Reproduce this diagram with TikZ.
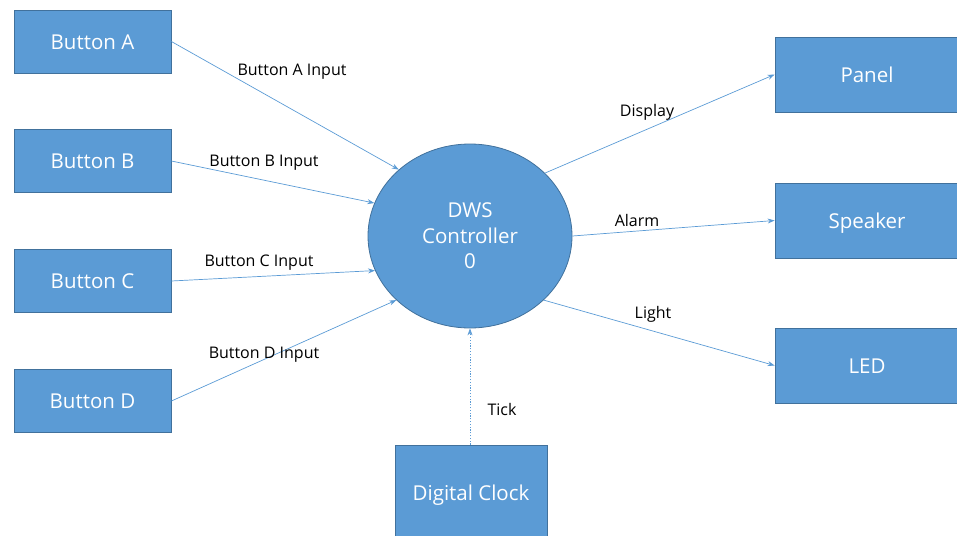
\documentclass[tikz,border=0pt]{standalone}
\usepackage{fontspec}
\setmainfont{Open Sans}
\usetikzlibrary{shapes.geometric,arrows.meta}
\definecolor{boxfill}{HTML}{5B9BD5}
\definecolor{boxline}{HTML}{41719C}
\definecolor{arrowc}{HTML}{5B9BD5}
\tikzset{
  blockbox/.style={draw=boxline, line width=0.8pt, fill=boxfill, text=white, inner sep=0pt,
    text height=15pt, text depth=-2pt, font=\fontsize{20.5}{25.5}\selectfont},
  ctrlshape/.style={ellipse, draw=boxline, line width=0.8pt, fill=boxfill, text=white, inner sep=0pt,
    minimum width=204pt, minimum height=184pt, align=center, text depth=-4pt,
    font=\fontsize{20.5}{25.5}\selectfont},
  flow/.style={draw=arrowc, line width=0.7pt, -{Stealth[length=7pt,width=5pt]}},
  tickflow/.style={flow, dash pattern=on 1.2pt off 1.6pt},
  lbl/.style={text=black, inner sep=0pt, anchor=base, font=\fontsize{16}{19}\selectfont}
}
\begin{document}
\begin{tikzpicture}[x=1pt,y=-1pt]
\useasboundingbox (0,0) rectangle (957,535);
\clip (0,0) rectangle (957,535);
% left inputs
\node[blockbox, minimum width=157pt, minimum height=63pt] (btnA) at (92.5,41.5) {Button A};
\node[blockbox, minimum width=157pt, minimum height=63pt] (btnB) at (92.5,161) {Button B};
\node[blockbox, minimum width=157pt, minimum height=63pt] (btnC) at (92.5,281) {Button C};
\node[blockbox, minimum width=157pt, minimum height=63pt] (btnD) at (92.5,401) {Button D};
% controller
\node[ctrlshape] (ctrl) at (470,236) {DWS\\Controller\\0};
% outputs
\node[blockbox, minimum width=184pt, minimum height=75pt] (panel) at (867,74.5) {Panel};
\node[blockbox, minimum width=184pt, minimum height=75pt] (spk) at (867,220.5) {Speaker};
\node[blockbox, minimum width=184pt, minimum height=75pt] (led) at (867,365.5) {LED};
% clock
\node[blockbox, minimum width=152pt, minimum height=96pt] (clk) at (471,493) {Digital Clock};
% connectors
\draw[flow] (btnA.east) -- (ctrl.137.6);
\draw[flow] (btnB.east) -- (ctrl.161.4);
\draw[flow] (btnC.east) -- (ctrl.200.8);
\draw[flow] (btnD.east) -- (ctrl.221.6);
\draw[flow] (ctrl.40) -- (panel.west);
\draw[flow] (ctrl.-0.5) -- (spk.west);
\draw[flow] (ctrl.-41) -- (led.west);
\draw[tickflow] (clk.north -| ctrl.south) -- (ctrl.south);
% labels
\node[lbl] (lA) at (292,75) {Button A Input};
\node[lbl] (lB) at (264,166.5) {Button B Input};
\node[lbl] (lC) at (259,266.5) {Button C Input};
\node[lbl] (lD) at (264,358) {Button D Input};
\node[lbl] (lDisp) at (647,116.5) {Display};
\node[lbl] (lAlarm) at (637,226.5) {Alarm};
\node[lbl] (lLight) at (653,318) {Light};
\node[lbl] (lTick) at (502,415) {Tick};
\end{tikzpicture}
\end{document}
